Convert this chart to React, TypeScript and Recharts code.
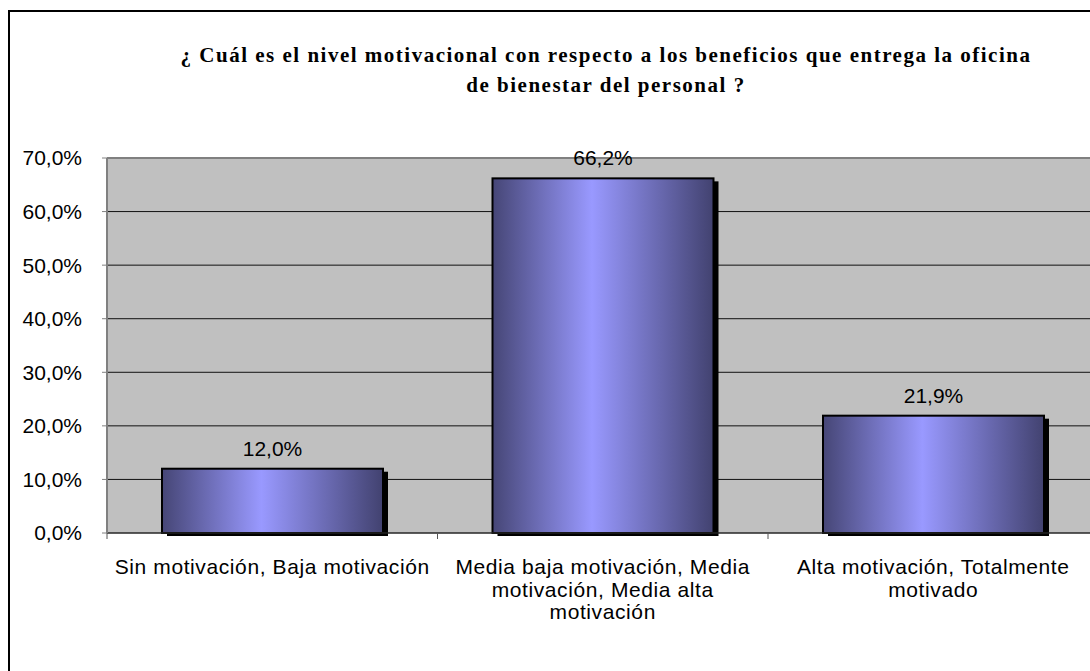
import React from 'react';
import { BarChart, Bar, XAxis, YAxis, CartesianGrid, LabelList, ReferenceLine } from 'recharts';

const categories = [
  'Sin motivación, Baja motivación',
  'Media baja motivación, Media\nmotivación, Media alta\nmotivación',
  'Alta motivación, Totalmente\nmotivado',
];
const percentages = [12.0, 66.2, 21.9];
const yTicks = [0, 10, 20, 30, 40, 50, 60, 70];
const titleLines = [
  '¿ Cuál es el nivel motivacional con respecto a los beneficios que entrega la oficina',
  'de bienestar del personal ?',
];

const data = categories.map((name, i) => ({ name, value: percentages[i] }));

const pct = (v: number) => v.toFixed(1).replace('.', ',') + '%';
const sans = '"Liberation Sans", Arial, sans-serif';

// bar with black drop shadow + horizontal "cylinder" gradient
const ShadowBar = (props: any) => {
  const { x, y, width, height } = props;
  if (!height) return null;
  return (
    <g>
      <rect x={x + 5} y={y + 3} width={width} height={height} fill="#000" />
      <rect x={x} y={y} width={width} height={height} fill="url(#barGrad)" stroke="#000" strokeWidth={2} />
    </g>
  );
};

const CategoryTick = (props: any) => {
  const { x, y, payload, index } = props;
  const half = payload?.offset ?? 165;
  const lines = String(payload.value).split('\n');
  return (
    <g>
      {index === 0 && <line x1={x - half} y1={y} x2={x - half} y2={y + 6} stroke="#555" />}
      <line x1={x + half} y1={y} x2={x + half} y2={y + 6} stroke="#555" />
      <text x={x} y={y + 41} textAnchor="middle" fontFamily={sans} fontSize={21} letterSpacing={0.6} fill="#000">
        {lines.map((l, i) => (
          <tspan key={i} x={x} dy={i === 0 ? 0 : 22.5}>{l}</tspan>
        ))}
      </text>
    </g>
  );
};

export default function App() {
  return (
    <div style={{ position: 'fixed', inset: 0, overflow: 'hidden', background: '#fff' }}>
      <svg width={0} height={0} style={{ position: 'absolute' }}>
        <defs>
          <linearGradient id="barGrad" x1="0" y1="0" x2="1" y2="0">
            <stop offset="0%" stopColor="#464676" />
            <stop offset="45%" stopColor="#9999FF" />
            <stop offset="100%" stopColor="#424270" />
          </linearGradient>
        </defs>
      </svg>
      <div
        style={{
          position: 'absolute',
          left: 8,
          top: 10,
          width: 1100,
          height: 700,
          border: '2px solid #000',
        }}
      >
        <div
          style={{
            position: 'absolute',
            left: 146,
            width: 900,
            top: 28,
            textAlign: 'center',
            fontFamily: '"Liberation Serif", "Times New Roman", serif',
            fontWeight: 'bold',
            fontSize: 21,
            letterSpacing: 1.5,
            lineHeight: '30px',
            color: '#000',
          }}
        >
          {titleLines.map((t, i) => (
            <div key={i}>{t}</div>
          ))}
        </div>
        <div style={{ position: 'absolute', left: 0, top: 0 }}>
          <BarChart
            width={1100}
            height={700}
            data={data}
            margin={{ top: 146, right: 11.5, left: 0, bottom: 79 }}
          >
            <CartesianGrid vertical={false} stroke="#111" fill="#C0C0C0" fillOpacity={1} />
            <ReferenceLine y={70} stroke="#808080" strokeWidth={2} />
            <XAxis
              dataKey="name"
              interval={0}
              height={100}
              tickSize={0}
              tickMargin={0}
              tickLine={false}
              axisLine={{ stroke: '#333' }}
              tick={<CategoryTick />}
            />
            <YAxis
              width={97}
              domain={[0, 70]}
              ticks={yTicks}
              interval={0}
              tickFormatter={pct}
              tickSize={5}
              tickMargin={20}
              axisLine={{ stroke: '#808080', strokeWidth: 2 }}
              tickLine={{ stroke: '#808080' }}
              tick={{ fontFamily: sans, fontSize: 21, fill: '#000' }}
            />
            <Bar dataKey="value" barSize={221} shape={<ShadowBar />} isAnimationActive={false}>
              <LabelList
                dataKey="value"
                position="top"
                offset={13}
                formatter={(v: any) => pct(Number(v))}
                style={{ fontFamily: sans, fontSize: 21, fill: '#000' }}
              />
            </Bar>
          </BarChart>
        </div>
      </div>
    </div>
  );
}
